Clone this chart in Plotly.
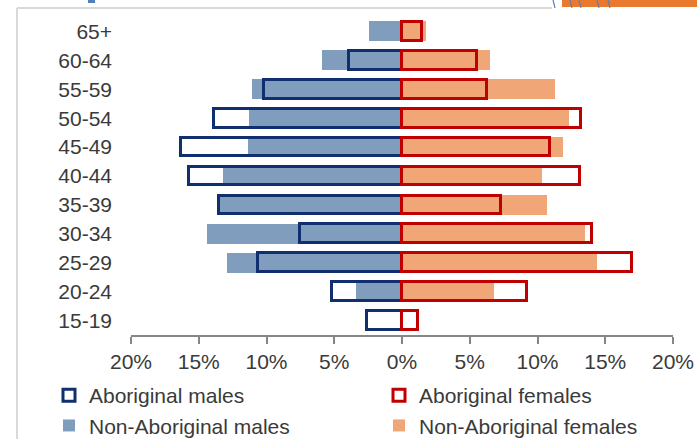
import plotly.graph_objects as go

# Age groups, bottom to top
age_groups = ["15-19", "20-24", "25-29", "30-34", "35-39", "40-44",
              "45-49", "50-54", "55-59", "60-64", "65+"]

# Share of each population (%) by age group
aboriginal_males = [2.6, 5.2, 10.6, 7.5, 13.5, 15.7, 16.3, 13.9, 10.2, 3.9, 0.0]
aboriginal_females = [1.2, 9.2, 17.0, 14.0, 7.3, 13.1, 10.9, 13.2, 6.3, 5.5, 1.5]
non_aboriginal_males = [0.0, 3.4, 12.9, 14.4, 13.5, 13.2, 11.4, 11.3, 11.1, 5.9, 2.4]
non_aboriginal_females = [0.0, 6.8, 14.4, 13.5, 10.7, 10.3, 11.9, 12.3, 11.3, 6.5, 1.8]

tick_values = [-20, -15, -10, -5, 0, 5, 10, 15, 20]
tick_labels = ["20%", "15%", "10%", "5%", "0%", "5%", "10%", "15%", "20%"]

NAVY = "#0F2F6F"
RED = "#C00000"
STEEL = "#819DBE"
PEACH = "#F0A676"
TEXT = "#3A3A3A"
FONT = "Liberation Sans, Arial, sans-serif"

W, H = 697, 439
L, R, T, B = 131, 24, 17, 104

fig = go.Figure()

# Filled bars for the non-Aboriginal population (drawn underneath)
fig.add_trace(go.Bar(
    y=age_groups, x=[-v for v in non_aboriginal_males], orientation="h",
    name="Non-Aboriginal males", legendrank=3, width=0.69,
    marker=dict(color=STEEL, line=dict(width=0)),
))
fig.add_trace(go.Bar(
    y=age_groups, x=non_aboriginal_females, orientation="h",
    name="Non-Aboriginal females", legendrank=4, width=0.69,
    marker=dict(color=PEACH, line=dict(width=0)),
))
# Outline-only bars for the Aboriginal population (drawn on top)
fig.add_trace(go.Bar(
    y=age_groups, x=[-v for v in aboriginal_males], orientation="h",
    name="Aboriginal males", legendrank=1, width=0.65,
    marker=dict(color="rgba(0,0,0,0)", line=dict(color=NAVY, width=3)),
))
fig.add_trace(go.Bar(
    y=age_groups, x=aboriginal_females, orientation="h",
    name="Aboriginal females", legendrank=2, width=0.65,
    marker=dict(color="rgba(0,0,0,0)", line=dict(color=RED, width=3)),
))


def px_x(px):
    return (px - L) / (W - L - R)


def px_y(py):
    return (H - B - py) / (H - T - B)


# Slide frame and header accents around the chart
shapes = [
    dict(type="line", xref="paper", yref="paper",
         x0=px_x(17), x1=px_x(552), y0=px_y(8), y1=px_y(8),
         line=dict(color="#D9D9D9", width=2)),
    dict(type="line", xref="paper", yref="paper",
         x0=px_x(17), x1=px_x(17), y0=px_y(8), y1=px_y(439),
         line=dict(color="#D9D9D9", width=2)),
    dict(type="rect", xref="paper", yref="paper",
         x0=px_x(562), x1=px_x(697), y0=px_y(0), y1=px_y(7),
         fillcolor="#E8792F", line=dict(width=0)),
    dict(type="rect", xref="paper", yref="paper",
         x0=px_x(88), x1=px_x(95), y0=px_y(0), y1=px_y(3),
         fillcolor="#4F81BD", line=dict(width=0)),
]
for x0 in (553, 570, 579, 597, 608):
    shapes.append(dict(type="line", xref="paper", yref="paper",
                       x0=px_x(x0), x1=px_x(x0 + 2), y0=px_y(0), y1=px_y(8),
                       line=dict(color="#5B7FB5", width=1.2)))

fig.update_layout(
    width=W, height=H,
    margin=dict(l=L, r=R, t=T, b=B, autoexpand=False),
    paper_bgcolor="white", plot_bgcolor="white",
    barmode="overlay", bargap=0,
    font=dict(family=FONT, size=21, color=TEXT),
    showlegend=True,
    legend=dict(
        orientation="h", x=px_x(49), y=px_y(375), xanchor="left", yanchor="top",
        entrywidth=285, entrywidthmode="pixels",
        font=dict(family=FONT, size=21, color=TEXT),
        tracegroupgap=0, itemwidth=30,
    ),
    xaxis=dict(
        range=[-20, 20], tickvals=tick_values, ticktext=tick_labels,
        showgrid=False, zeroline=False,
        showline=True, linecolor="#868686", linewidth=1.5,
        ticks="outside", ticklen=7, tickcolor="#868686", tickwidth=1.5,
        tickfont=dict(family=FONT, size=21, color=TEXT),
        fixedrange=True,
    ),
    yaxis=dict(
        type="category", categoryorder="array", categoryarray=age_groups,
        range=[-0.5, len(age_groups) - 0.5],
        tickmode="array", tickvals=age_groups, ticktext=age_groups,
        showgrid=False, zeroline=False, showline=False, ticks="",
        ticklabelstandoff=18,
        tickfont=dict(family=FONT, size=21, color=TEXT),
        fixedrange=True,
    ),
    shapes=shapes,
)

fig.write_html("out.html")
